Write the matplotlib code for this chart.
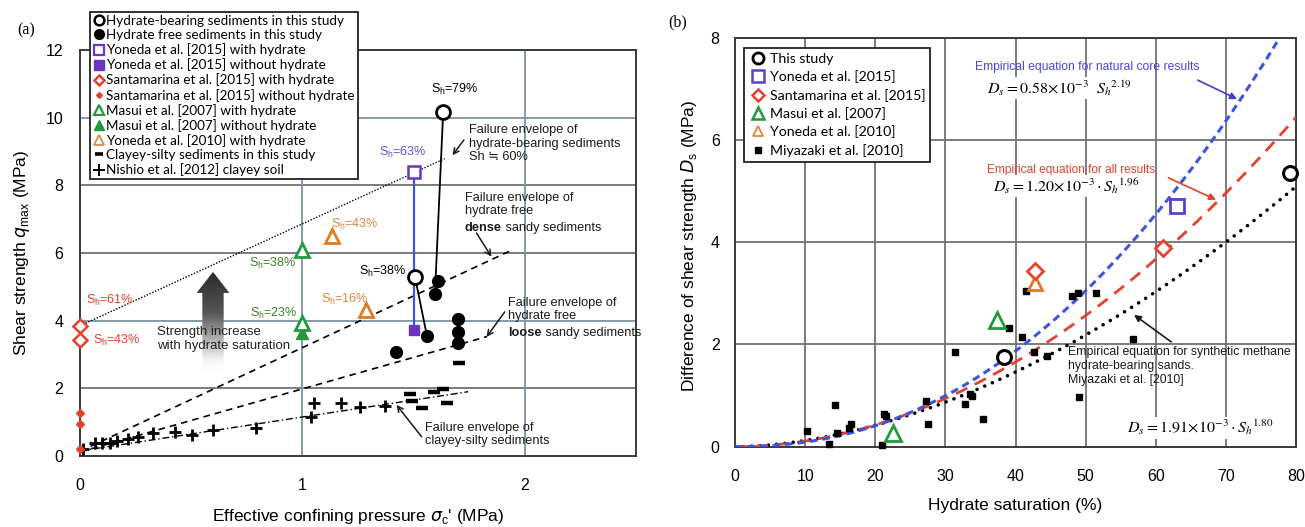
import numpy as np
import matplotlib
matplotlib.use("Agg")
import matplotlib.pyplot as plt
from matplotlib.lines import Line2D
from matplotlib.patches import Polygon
from matplotlib.colors import LinearSegmentedColormap

# ---------------- data: panel (a) ----------------
hb_x = [1.506, 1.633]            # hydrate-bearing, this study
hb_y = [5.30, 10.17]
hf_x = [1.42, 1.56, 1.596, 1.61, 1.70, 1.70, 1.70]   # hydrate free, this study
hf_y = [3.08, 3.55, 4.80, 5.17, 3.35, 3.67, 4.06]
pair_a_x = [1.506, 1.56]; pair_a_y = [5.30, 3.55]
pair_b_x = [1.633, 1.596]; pair_b_y = [10.17, 4.80]
yon15_h_x = [1.50]; yon15_h_y = [8.40]
yon15_f_x = [1.50]; yon15_f_y = [3.72]
sant_h_x = [0.0, 0.0]; sant_h_y = [3.85, 3.43]
sant_f_x = [0.0, 0.0, 0.0]; sant_f_y = [1.26, 0.94, 0.22]
masui_h_x = [1.0, 1.0]; masui_h_y = [6.09, 3.94]
masui_f_x = [1.0]; masui_f_y = [3.63]
yon10_h_x = [1.134, 1.288]; yon10_h_y = [6.49, 4.31]
clay_x = [1.483, 1.494, 1.54, 1.59, 1.63, 1.648, 1.703]
clay_y = [1.83, 1.64, 1.43, 1.90, 1.97, 1.57, 2.76]
nish_x = [0.015, 0.067, 0.10, 0.135, 0.168, 0.217, 0.259, 0.33, 0.427, 0.502,
          0.60, 0.79, 1.04, 1.05, 1.175, 1.258, 1.37]
nish_y = [0.20, 0.37, 0.37, 0.39, 0.44, 0.49, 0.55, 0.67, 0.72, 0.62,
          0.77, 0.82, 1.14, 1.56, 1.56, 1.46, 1.49]
env_hb_x = [0.0, 1.64]; env_hb_y = [3.85, 8.79]
env_dense_x = [0.0, 1.94]; env_dense_y = [0.14, 6.08]
env_loose_x = [0.0, 1.83]; env_loose_y = [0.12, 3.53]
env_clay_x = [0.0, 1.745]; env_clay_y = [0.15, 1.90]

# ---------------- data: panel (b) ----------------
b_this_x = [38.3, 79.1]; b_this_y = [1.76, 5.36]
b_yon15_x = [63.1]; b_yon15_y = [4.71]
b_sant_x = [42.8, 61.0]; b_sant_y = [3.44, 3.88]
b_masui_x = [22.5, 37.3]; b_masui_y = [0.27, 2.48]
b_yon10_x = [42.8]; b_yon10_y = [3.20]
miy_x = [10.2, 13.4, 14.2, 14.6, 16.2, 16.6, 20.9, 21.2, 21.6, 27.2, 27.5, 31.4,
         32.8, 33.5, 33.8, 35.3, 39.1, 40.9, 41.5, 42.7, 44.5, 48.0, 48.9, 49.0,
         51.5, 56.7]
miy_y = [0.31, 0.05, 0.82, 0.27, 0.36, 0.45, 0.03, 0.63, 0.61, 0.90, 0.44, 1.85,
         0.83, 1.03, 1.00, 0.54, 2.32, 2.14, 3.05, 1.85, 1.78, 2.94, 3.00, 0.98,
         3.00, 2.11]
# empirical equations printed on the chart: D_s = a*1e-3 * S_h^b
eq_natural = (0.58, 2.19)
eq_all = (1.20, 1.96)
eq_miy = (1.91, 1.80)

# ---------------- styling ----------------
SANS = "Liberation Sans"
SANSL = ["Liberation Sans", "DejaVu Sans", "Noto Sans CJK JP"]
LEG = "Lato"
RED = "#e5412d"; GREEN = "#1f9a3f"; DGREEN = "#3d7f2c"; ORANGE = "#e07a22"
LORANGE = "#d9873f"; PURPLE = "#6a35c0"; BLUE = "#3d55dd"; GRID = "#7b93a6"
GRID2 = "#6e7276"

fig = plt.figure(figsize=(13.05, 5.27), dpi=100)
axa = fig.add_axes([80/1305, 1-456/527, 556/1305, 406/527])
axb = fig.add_axes([735/1305, 1-446.7/527, 561/1305, 409/527])

for ax in (axa, axb):
    for s in ax.spines.values():
        s.set_color("#3a3a3a"); s.set_linewidth(1.4)
    ax.tick_params(length=0, labelsize=11.5)

# ---------- panel (a) ----------
axa.set_xlim(0, 2.5); axa.set_ylim(0, 12)
axa.set_xticks([0, 1, 2]); axa.set_yticks([0, 2, 4, 6, 8, 10, 12])
axa.tick_params(axis="x", pad=16); axa.tick_params(axis="y", pad=12)
for lab in axa.get_xticklabels() + axa.get_yticklabels():
    lab.set_fontfamily(SANS)
for yv, c in zip([2, 4, 6, 8, 10], [GRID2, GRID, GRID2, GRID2, GRID]):
    axa.axhline(yv, color=c, lw=1.3, zorder=0)
for xv, c in zip([1, 2], [GRID, GRID]):
    axa.axvline(xv, color=c, lw=1.3, zorder=0)

axa.plot(env_hb_x, env_hb_y, color="k", lw=1.0, ls=(0, (1, 1.2)), zorder=2)
axa.plot(env_dense_x, env_dense_y, color="k", lw=1.2, ls=(0, (4, 3)), zorder=2)
axa.plot(env_loose_x, env_loose_y, color="k", lw=1.2, ls=(0, (4, 3)), zorder=2)
axa.plot(env_clay_x, env_clay_y, color="k", lw=1.0, ls=(0, (5, 2, 1, 2)), zorder=2)

axa.plot(pair_a_x, pair_a_y, color="k", lw=1.3, zorder=3)
axa.plot(pair_b_x, pair_b_y, color="k", lw=1.3, zorder=3)
axa.plot(yon15_h_x + yon15_f_x, yon15_h_y + yon15_f_y, color=BLUE, lw=1.6, zorder=3)

# gradient arrow
cx, hwh, hwb, ytop, yhead, ybot = 0.598, 0.074, 0.048, 5.44, 4.82, 2.49
poly = Polygon([(cx-hwb, ybot), (cx-hwb, yhead), (cx-hwh, yhead), (cx, ytop),
                (cx+hwh, yhead), (cx+hwb, yhead), (cx+hwb, ybot)],
               closed=True, facecolor="none", edgecolor="none")
axa.add_patch(poly)
cmap = LinearSegmentedColormap.from_list("g", [(0, "#ffffff"), (0.12, "#f4f4f4"),
                                               (0.6, "#555555"), (1, "#2b2b2b")])
grad = np.linspace(0, 1, 256).reshape(-1, 1)
im = axa.imshow(grad, cmap=cmap, extent=[cx-hwh, cx+hwh, ybot, ytop],
                origin="lower", aspect="auto", zorder=1)
im.set_clip_path(poly)
axa.set_xlim(0, 2.5); axa.set_ylim(0, 12)
axa.text(0.346, 3.67, "Strength increase", fontsize=9.5, family=SANS,
         color="#222222", va="center", zorder=5)
axa.text(0.346, 3.25, "with hydrate saturation", fontsize=9.5, family=SANS,
         color="#222222", va="center", zorder=5)

mk = dict(ls="none", clip_on=False, zorder=6)
axa.plot(nish_x, nish_y, marker="+", ms=8, mew=2, color="k", **mk)
axa.plot(clay_x, clay_y, marker="_", ms=8, mew=3.2, color="k", **mk)
axa.plot(sant_f_x, sant_f_y, marker="D", ms=4.5, color=RED, mec=RED, **mk)
axa.plot(sant_h_x, sant_h_y, marker="D", ms=7, mfc="white", mec=RED, mew=1.8, **mk)
axa.plot(masui_f_x, masui_f_y, marker="^", ms=9, color=GREEN, **mk)
axa.plot(masui_h_x, masui_h_y, marker="^", ms=10, mfc="white", mec=GREEN, mew=2, **mk)
axa.plot(yon10_h_x, yon10_h_y, marker="^", ms=10, mfc="white", mec=ORANGE, mew=2, **mk)
axa.plot(yon15_f_x, yon15_f_y, marker="s", ms=7, color=PURPLE, **mk)
axa.plot(yon15_h_x, yon15_h_y, marker="s", ms=8, mfc="white", mec=PURPLE, mew=1.8, **mk)
axa.plot(hf_x, hf_y, marker="o", ms=8.5, color="k", **mk)
axa.plot(hb_x, hb_y, marker="o", ms=10, mfc="white", mec="k", mew=2, **mk)

SH = "S$_\\mathregular{h}$="
lk = dict(fontsize=9, family=SANS, va="center", zorder=7)
axa.text(1.685, 10.83, SH + "79%", color="k", ha="center", **lk)
axa.text(1.452, 8.98, SH + "63%", color="#5a52e0", ha="center", **lk)
axa.text(1.468, 5.44, SH + "38%", color="k", ha="right", **lk)
axa.text(1.127, 6.85, SH + "43%", color=LORANGE, ha="left", **lk)
axa.text(1.083, 4.63, SH + "16%", color=LORANGE, ha="left", **lk)
axa.text(0.974, 5.69, SH + "38%", color=DGREEN, ha="right", **lk)
axa.text(0.977, 4.22, SH + "23%", color=DGREEN, ha="right", **lk)
axa.text(0.027, 4.61, SH + "61%", color=RED, ha="left", **lk)
axa.text(0.057, 3.43, SH + "43%", color=RED, ha="left", **lk)

FS_A = 9.2
af = dict(fontsize=FS_A, family=SANSL, color="#1a1a1a", va="top", linespacing=1.12, zorder=7)
axa.text(1.748, 9.80, "Failure envelope of\nhydrate-bearing sediments\nSh \u2252 60%", **af)
axa.text(1.730, 7.80, "Failure envelope of\nhydrate free", **af)
tb = axa.text(1.730, 6.66, "dense", fontsize=FS_A, family=SANS, weight="bold",
              color="#1a1a1a", va="baseline", zorder=7)
axa.annotate(" sandy sediments", xy=(1, 0), xycoords=tb, va="bottom",
             fontsize=FS_A, family=SANS, color="#1a1a1a", zorder=7)
axa.text(1.925, 4.69, "Failure envelope of\nhydrate free", **af)
tb2 = axa.text(1.925, 3.54, "loose", fontsize=FS_A, family=SANS, weight="bold",
               color="#1a1a1a", va="baseline", zorder=7)
axa.annotate(" sandy sediments", xy=(1, 0), xycoords=tb2, va="bottom",
             fontsize=FS_A, family=SANS, color="#1a1a1a", zorder=7,
             annotation_clip=False)
axa.text(1.551, 1.01, "Failure envelope of\nclayey-silty sediments", **af)
ap = dict(arrowstyle="->", lw=1.1, color="#1a1a1a", shrinkA=0, shrinkB=0)
axa.annotate("", xy=(1.675, 8.89), xytext=(1.726, 9.34), arrowprops=ap)
axa.annotate("", xy=(1.85, 5.89), xytext=(1.783, 6.59), arrowprops=ap)
axa.annotate("", xy=(1.828, 3.52), xytext=(1.91, 4.26), arrowprops=ap)
axa.annotate("", xy=(1.423, 1.51), xytext=(1.536, 0.57), arrowprops=ap)

axa.set_ylabel("Shear strength $q_{\\mathregular{max}}$ (MPa)", fontsize=12.5,
               family=SANS, math_fontfamily="dejavusans")
axa.yaxis.set_label_coords(-0.087, 0.5)
axa.set_xlabel("Effective confining pressure $\\sigma_{\\mathregular{c}}$' (MPa)",
               fontsize=12.5, family=SANS, math_fontfamily="dejavusans")
axa.xaxis.set_label_coords(0.5, -0.125)

hnd_a = [
    Line2D([], [], ls="none", marker="o", ms=7, mfc="white", mec="k", mew=1.8),
    Line2D([], [], ls="none", marker="o", ms=7, color="k"),
    Line2D([], [], ls="none", marker="s", ms=6.5, mfc="white", mec=PURPLE, mew=1.6),
    Line2D([], [], ls="none", marker="s", ms=7, color=PURPLE),
    Line2D([], [], ls="none", marker="D", ms=5.5, mfc="white", mec=RED, mew=1.8),
    Line2D([], [], ls="none", marker="D", ms=3, color=RED),
    Line2D([], [], ls="none", marker="^", ms=7.5, mfc="white", mec=GREEN, mew=1.6),
    Line2D([], [], ls="none", marker="^", ms=6.5, color=GREEN),
    Line2D([], [], ls="none", marker="^", ms=7, mfc="white", mec=LORANGE, mew=1.2),
    Line2D([], [], ls="none", marker="_", ms=6, mew=2.6, color="k"),
    Line2D([], [], ls="none", marker="+", ms=8, mew=1.4, color="k"),
]
lab_a = ["Hydrate-bearing sediments in this study",
         "Hydrate free sediments in this study",
         "Yoneda et al. [2015] with hydrate",
         "Yoneda et al. [2015] without hydrate",
         "Santamarina et al. [2015] with hydrate",
         "Santamarina et al. [2015] without hydrate",
         "Masui et al. [2007] with hydrate",
         "Masui et al. [2007] without hydrate",
         "Yoneda et al. [2010] with hydrate",
         "Clayey-silty sediments in this study",
         "Nishio et al. [2012] clayey soil"]
lega = fig.legend(hnd_a, lab_a, loc="upper left", bbox_to_anchor=(90/1305, 1-12/527),
                  prop={"family": LEG, "size": 9.7}, frameon=True, fancybox=False,
                  borderaxespad=0, borderpad=0.22, handletextpad=0.1, handlelength=0.9,
                  labelspacing=0.16, framealpha=1)
lega.get_frame().set_edgecolor("#222222"); lega.get_frame().set_linewidth(1.3)

fig.text(26/1305, 1-30/527, "(a)", family="Liberation Serif", fontsize=11.5,
         ha="center", va="center")
fig.text(678/1305, 1-22/527, "(b)", family="Liberation Serif", fontsize=11.5,
         ha="center", va="center")

# ---------- panel (b) ----------
axb.set_xlim(0, 80); axb.set_ylim(0, 8)
axb.set_xticks(range(0, 81, 10)); axb.set_yticks([0, 2, 4, 6, 8])
axb.tick_params(axis="x", pad=16); axb.tick_params(axis="y", pad=11)
for lab in axb.get_xticklabels() + axb.get_yticklabels():
    lab.set_fontfamily(SANS)
for xv in range(10, 80, 10):
    axb.axvline(xv, color=GRID2, lw=1.3, zorder=0)
for yv in [2, 4, 6]:
    axb.axhline(yv, color=GRID2, lw=1.3, zorder=0)

S = np.linspace(0, 80, 400)
for (a, b), st in zip([eq_miy, eq_all, eq_natural],
                      [dict(color="k", lw=2.6, ls=(0, (0.01, 2.3)), dash_capstyle="round"),
                       dict(color=RED, lw=2.0, ls=(0, (4.5, 3))),
                       dict(color=BLUE, lw=2.2, ls=(0, (2.5, 1.6)))]):
    axb.plot(S, a * 1e-3 * S ** b, zorder=3, **st)

mkb = dict(ls="none", clip_on=False, zorder=6)
axb.plot(miy_x, miy_y, marker="s", ms=5, color="k", **mkb)
axb.plot(b_masui_x, b_masui_y, marker="^", ms=11, mfc="white", mec=GREEN, mew=2, **mkb)
axb.plot(b_yon10_x, b_yon10_y, marker="^", ms=10, mfc="white", mec=ORANGE, mew=2, **mkb)
axb.plot(b_sant_x, b_sant_y, marker="D", ms=8, mfc="white", mec=RED, mew=2, **mkb)
axb.plot(b_yon15_x, b_yon15_y, marker="s", ms=10, mfc="white", mec="#5a3fd0", mew=2, **mkb)
axb.plot(b_this_x, b_this_y, marker="o", ms=10, mfc="white", mec="k", mew=2.2, **mkb)

bb = dict(facecolor="white", edgecolor="none", pad=1)
axb.text(34.2, 7.43, "Empirical equation for natural core results", fontsize=8.7,
         family=SANS, color="#4a46dc", va="center")
axb.text(35.9, 7.02, r"$D_s = 0.58\!\times\!10^{-3}\ \ S_h{}^{2.19}$", fontsize=11.5,
         math_fontfamily="stix", va="center", bbox=bb)
axb.text(35.9, 5.41, "Empirical equation for all results", fontsize=8.6,
         family=SANS, color=RED, va="center")
axb.text(36.8, 5.10, r"$D_s = 1.20\!\times\!10^{-3}\cdot S_h{}^{1.96}$", fontsize=11.5,
         math_fontfamily="stix", va="center", bbox=bb)
axb.text(47.5, 1.97, "Empirical equation for synthetic methane\nhydrate-bearing sands.\nMiyazaki et al. [2010]",
         fontsize=8.8, family=SANS, color="#1a1a1a", va="top", linespacing=1.2, zorder=7)
axb.text(55.9, 0.37, r"$D_s = 1.91\!\times\!10^{-3}\cdot S_h{}^{1.80}$", fontsize=11.5,
         math_fontfamily="stix", va="center", bbox=bb)
axb.annotate("", xy=(71.6, 6.80), xytext=(66.0, 7.17),
             arrowprops=dict(arrowstyle="-|>", lw=1.2, color="#4040c8", mutation_scale=10,
                             shrinkA=0, shrinkB=0))
axb.annotate("", xy=(68.6, 4.83), xytext=(61.8, 5.26),
             arrowprops=dict(arrowstyle="-|>", lw=1.2, color=RED, mutation_scale=10,
                             shrinkA=0, shrinkB=0))
axb.annotate("", xy=(56.9, 2.58), xytext=(62.2, 2.05),
             arrowprops=dict(arrowstyle="-|>", lw=1.2, color="#1a1a1a", mutation_scale=10,
                             shrinkA=0, shrinkB=0))

axb.set_ylabel("Difference of shear strength $D_{\\mathregular{s}}$ (MPa)", fontsize=12.5,
               family=SANS, math_fontfamily="dejavusans")
axb.yaxis.set_label_coords(-0.064, 0.49)
axb.set_xlabel("Hydrate saturation (%)", fontsize=12.5, family=SANS)
axb.xaxis.set_label_coords(0.5, -0.125)

hnd_b = [
    Line2D([], [], ls="none", marker="o", ms=8, mfc="white", mec="k", mew=2),
    Line2D([], [], ls="none", marker="s", ms=8, mfc="white", mec="#5a3fd0", mew=1.8),
    Line2D([], [], ls="none", marker="D", ms=6, mfc="white", mec=RED, mew=1.8),
    Line2D([], [], ls="none", marker="^", ms=8.5, mfc="white", mec=GREEN, mew=1.8),
    Line2D([], [], ls="none", marker="^", ms=7, mfc="white", mec=LORANGE, mew=1.3),
    Line2D([], [], ls="none", marker="s", ms=4.5, color="k"),
]
lab_b = ["This study", "Yoneda et al. [2015]", "Santamarina et al. [2015]",
         "Masui et al. [2007]", "Yoneda et al. [2010]", "Miyazaki et al. [2010]"]
legb = axb.legend(hnd_b, lab_b, loc="upper left",
                  bbox_to_anchor=((744-735)/561, (446.7-48)/409),
                  prop={"family": LEG, "size": 10.2}, frameon=True, fancybox=False,
                  borderaxespad=0, borderpad=0.35, handletextpad=0.15, handlelength=1.3,
                  labelspacing=0.38, framealpha=1)
legb.get_frame().set_edgecolor("#222222"); legb.get_frame().set_linewidth(1.3)

fig.savefig("out.png", dpi=100)
